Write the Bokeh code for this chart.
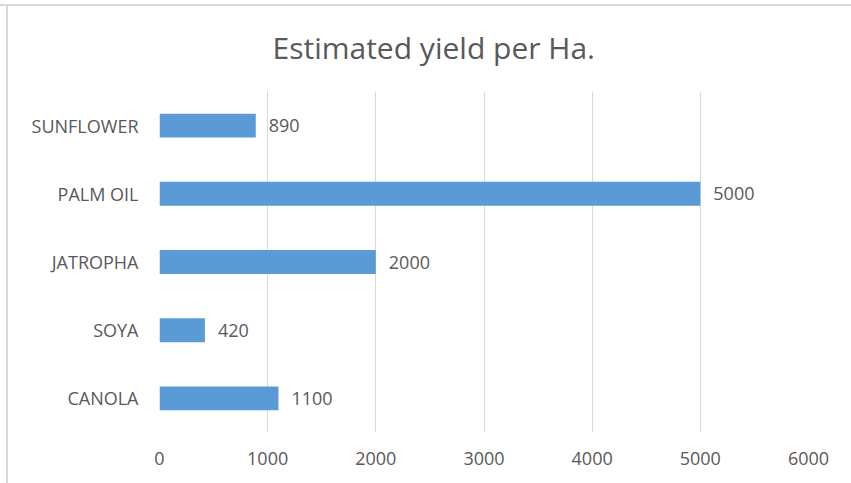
from bokeh.plotting import figure
from bokeh.models import ColumnDataSource, LabelSet, Range1d, FactorRange, Title, FixedTicker
from bokeh.core.properties import value
from bokeh.embed import file_html
from bokeh.resources import INLINE

crops = ["CANOLA", "SOYA", "JATROPHA", "PALM OIL", "SUNFLOWER"]
yields = [1100, 420, 2000, 5000, 890]
x_ticks = [0, 1000, 2000, 3000, 4000, 5000, 6000]

TEXT = "#595959"
FONT = "Open Sans"

src = ColumnDataSource(dict(crop=crops, val=yields, lab=[str(v) for v in yields]))

p = figure(width=851, height=483, y_range=FactorRange(*crops), x_range=Range1d(0, 6000),
           output_backend="svg", toolbar_location=None,
           min_border_left=159, min_border_right=43, min_border_top=91, min_border_bottom=51)
p.title = None
t = Title(text="Estimated yield per Ha.", align="left", offset=113,
          text_font=FONT, text_font_size="30px", text_color=TEXT,
          text_font_style="normal", standoff=47)
p.add_layout(t, "above")

p.hbar(y="crop", right="val", left=0, height=0.35, source=src,
       fill_color="#5B9BD5", line_color=None)

labels = LabelSet(x="val", y="crop", text="lab", source=src, x_offset=13,
                  text_baseline="middle", text_font=value(FONT), text_font_size="18px",
                  text_color=TEXT)
p.add_layout(labels)

p.outline_line_color = None
p.border_fill_color = None
p.background_fill_color = "white"
p.styles = {
    "background": "linear-gradient(#d9d9d9,#d9d9d9) 0px 4px / 100% 2px no-repeat, "
                  "linear-gradient(#d9d9d9,#d9d9d9) 6px 4px / 2px 100% no-repeat, white"
}
p.ygrid.grid_line_color = None
p.xgrid.grid_line_color = "#d9d9d9"
p.xgrid.grid_line_width = 1
p.xaxis.ticker = FixedTicker(ticks=x_ticks)

for ax in (p.xaxis, p.yaxis):
    ax.axis_line_color = None
    ax.major_tick_line_color = None
    ax.minor_tick_line_color = None
    ax.major_label_text_font = FONT
    ax.major_label_text_font_size = "18px"
    ax.major_label_text_color = TEXT
p.xaxis.major_label_standoff = 13
p.yaxis.major_label_standoff = 15
p.y_range.range_padding = 0
p.y_range.factor_padding = 0

open("out.html", "w").write(file_html(p, INLINE))
